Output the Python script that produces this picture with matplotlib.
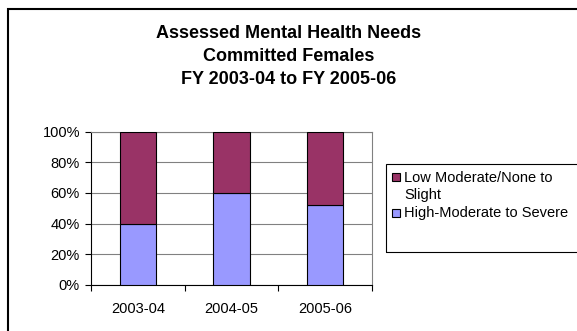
import matplotlib
matplotlib.use("Agg")
import matplotlib.pyplot as plt
from matplotlib.patches import Rectangle

plt.rcParams["font.family"] = ["Liberation Sans", "DejaVu Sans"]

years = ["2003-04", "2004-05", "2005-06"]
high_severe = [40, 60, 52]
low_slight = [60, 40, 48]
series_names = ["High-Moderate to Severe", "Low Moderate/None to\nSlight"]
colors = ["#9999FF", "#993366"]

W, H = 577, 331
fig = plt.figure(figsize=(W / 100, H / 100), dpi=100)


def fx(px):
    return px / W


def fy(py):
    return 1 - py / H


# outer chart frame (runs off the right and bottom edge, as in the original)
fig.patches.append(Rectangle((fx(7.5), -0.2), 1.2, fy(9) + 0.2,
                             transform=fig.transFigure, fill=False,
                             edgecolor="black", linewidth=1.5))

title_lines = ["Assessed Mental Health Needs", "Committed Females", "FY 2003-04 to FY 2005-06"]
for i, line in enumerate(title_lines):
    fig.text(0.5, fy(33 + 23.5 * i), line, ha="center", va="center",
             fontsize=13, fontweight="bold")

ax = fig.add_axes([fx(91), fy(285), fx(372) - fx(91), fy(131.5) - fy(285)])
x = range(len(years))
ax.bar(x, high_severe, 0.39, color=colors[0], edgecolor="black", linewidth=0.8, zorder=3)
ax.bar(x, low_slight, 0.39, bottom=high_severe, color=colors[1], edgecolor="black",
       linewidth=0.8, zorder=3)

ax.set_xlim(-0.5, 2.5)
ax.set_ylim(0, 100)
yt = [0, 20, 40, 60, 80, 100]
ax.set_yticks(yt)
ax.set_yticklabels([f"{v}%" for v in yt])
ax.yaxis.grid(True, color="#808080", linewidth=0.8, zorder=0)
ax.set_xticks([-0.5, 0.5, 1.5, 2.5])
ax.set_xticklabels([])
ax.set_xticks(list(x), minor=True)
ax.set_xticklabels(years, minor=True)
ax.tick_params(axis="x", which="major", length=4, width=0.8, color="black")
ax.tick_params(axis="x", which="minor", length=0, pad=12, labelsize=10.5)
ax.tick_params(axis="y", length=4, width=0.8, pad=4, labelsize=10.5)
for side in ["top", "right"]:
    ax.spines[side].set_color("#808080")
    ax.spines[side].set_linewidth(0.8)
for side in ["left", "bottom"]:
    ax.spines[side].set_color("black")
    ax.spines[side].set_linewidth(0.8)

# legend box, drawn by hand so the marker sits on the first text line
fig.patches.append(Rectangle((fx(385.7), fy(252)), 0.5, fy(164.3) - fy(252),
                             transform=fig.transFigure, fill=False,
                             edgecolor="black", linewidth=0.8))
legend_rows = [(177, colors[1], series_names[1]),
               (213, colors[0], series_names[0])]
for y, c, label in legend_rows:
    fig.patches.append(Rectangle((fx(392), fy(y + 4)), fx(8), fy(y - 4) - fy(y + 4),
                                 transform=fig.transFigure, facecolor=c,
                                 edgecolor="black", linewidth=0.8))
    fig.text(fx(404), fy(y - 6.5), label, ha="left", va="top", fontsize=10.5,
             linespacing=1.28)

fig.savefig("out.png", dpi=100)
